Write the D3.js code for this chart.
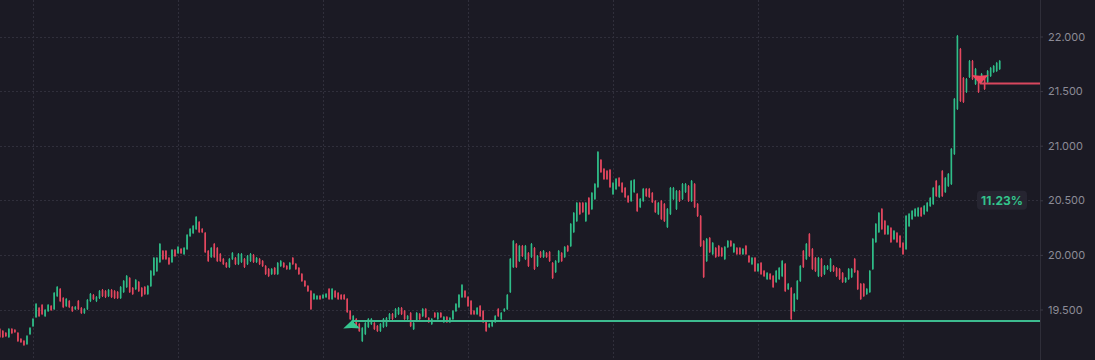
<!DOCTYPE html>
<html><head><meta charset="utf-8">
<script src="https://cdn.jsdelivr.net/npm/d3@7"></script>
<style>html,body{margin:0;padding:0;background:#1b1a24;overflow:hidden}svg{display:block}</style>
</head><body><svg id="c" width="1095" height="360"></svg>
<script>
const opens=[
19321,19303,19285,19248,19321,19312,19285,19230,19212,19184,
19275,19348,19431,19514,19541,19440,19486,19532,19504,19623,
19688,19605,19532,19578,19523,19504,19578,19514,19468,19504,
19577,19633,19577,19605,19679,19669,19623,19679,19669,19660,
19605,19660,19706,19788,19697,19687,19752,19697,19706,19642,
19715,19816,19852,19935,20036,20036,19972,19935,20045,20017,
20054,20008,20054,20173,20200,20237,20301,20237,20201,20036,
19981,20100,20063,20008,19963,19926,19889,19962,19972,19916,
19935,19963,19916,19944,19999,19935,19963,19944,19898,19871,
19825,19880,19825,19898,19926,19898,19871,19972,19917,19880,
19825,19761,19715,19669,19596,19596,19624,19605,19614,19688,
19596,19669,19651,19633,19633,19596,19486,19339,19413,19367,
19211,19275,19339,19367,19376,19349,19303,19339,19348,19413,
19459,19431,19458,19514,19486,19413,19468,19321,19394,19459,
19440,19504,19422,19367,19468,19413,19468,19385,19431,19385,
19413,19486,19522,19614,19669,19614,19578,19486,19458,19532,
19486,19395,19339,19348,19385,19504,19413,19486,19504,19660,
19889,20100,19944,20082,19962,20017,19981,20063,19898,20027,
19981,20017,20027,19926,19843,19935,20017,19981,20082,20081,
20209,20310,20476,20476,20310,20521,20420,20512,20622,20869,
20787,20768,20778,20557,20603,20704,20658,20613,20539,20494,
20576,20558,20438,20494,20604,20604,20567,20494,20374,20494,
20466,20255,20374,20512,20420,20585,20512,20576,20631,20494,
20649,20466,20356,20127,19944,20155,20008,20063,20082,20063,
19962,20072,20127,20026,20063,20063,20008,20082,19990,19916,
19972,19852,19926,19853,19779,19825,19807,19752,19779,19806,
19917,19687,19697,19486,19596,19761,20036,19962,20191,20054,
19972,19806,19963,19825,19871,19852,19898,19880,19871,19834,
19752,19779,19797,19963,19853,19734,19734,19642,19660,19871,
20118,20209,20420,20311,20191,20246,20145,20201,20173,20109,
20054,20264,20329,20356,20356,20430,20374,20402,20448,20466,
20677,20530,20768,20576,20631,20649,20924,21336,21886,21620,
21492,21629,21776,21565,21620,21583,21620,21583,21638,21675,
21684,21702];
const highs=[
19330,19312,19294,19330,19330,19321,19294,19239,19221,19266,
19339,19422,19559,19523,19550,19504,19550,19541,19660,19715,
19697,19614,19605,19587,19532,19532,19587,19523,19513,19596,
19651,19642,19623,19678,19688,19678,19688,19688,19678,19669,
19715,19770,19816,19797,19706,19779,19761,19706,19715,19724,
19862,19981,19981,20109,20045,20045,19981,20054,20054,20081,
20063,20072,20191,20246,20274,20356,20310,20246,20210,20045,
20072,20109,20072,20017,19972,19935,19972,20026,19981,20017,
20017,19972,19999,20017,20008,19981,19972,19953,19907,19880,
19880,19889,19935,19953,19935,19907,19935,19981,19926,19889,
19834,19770,19724,19678,19651,19633,19633,19642,19651,19697,
19697,19678,19660,19642,19642,19605,19495,19449,19422,19376,
19339,19385,19422,19422,19385,19358,19376,19422,19431,19468,
19468,19513,19523,19523,19495,19449,19477,19385,19477,19468,
19513,19513,19431,19422,19477,19477,19477,19440,19440,19431,
19495,19559,19642,19733,19678,19623,19587,19495,19523,19541,
19495,19404,19376,19404,19449,19513,19477,19513,19642,19972,
20136,20109,20091,20091,20091,20026,20109,20072,19999,20036,
20045,20026,20036,19935,19953,20045,20026,20081,20091,20292,
20393,20485,20485,20485,20485,20530,20576,20658,20951,20878,
20796,20777,20787,20667,20704,20713,20667,20622,20548,20686,
20695,20567,20521,20613,20613,20613,20576,20503,20485,20503,
20475,20429,20622,20622,20594,20594,20658,20658,20640,20686,
20658,20475,20365,20136,20155,20164,20118,20072,20091,20072,
20081,20136,20136,20109,20072,20072,20063,20091,19999,19981,
19981,19926,19935,19862,19843,19834,19816,19862,19889,19953,
19926,19743,19706,19651,19770,19907,20045,20109,20200,20063,
19981,19981,19972,19907,19907,19972,19907,19889,19880,19843,
19797,19880,19880,19972,19862,19743,19743,19697,19862,20155,
20292,20393,20429,20320,20274,20255,20228,20210,20182,20118,
20365,20384,20411,20429,20439,20439,20457,20485,20530,20622,
20686,20640,20777,20713,20750,20979,21437,22014,21895,21629,
21620,21785,21785,21712,21629,21666,21629,21693,21721,21739,
21767,21785];
const lows=[
19239,19239,19248,19239,19275,19285,19202,19193,19166,19175,
19266,19339,19422,19431,19449,19431,19477,19486,19495,19614,
19568,19513,19523,19513,19477,19495,19495,19459,19459,19495,
19568,19587,19568,19596,19614,19605,19614,19605,19596,19596,
19596,19651,19697,19651,19633,19678,19660,19614,19633,19633,
19706,19807,19843,19926,19953,19953,19907,19926,19981,20008,
20008,19999,20045,20164,20191,20228,20200,20200,20017,19935,
19972,19972,19935,19935,19907,19880,19880,19953,19907,19907,
19926,19880,19907,19935,19926,19926,19907,19889,19816,19797,
19816,19816,19816,19889,19880,19862,19862,19907,19862,19816,
19752,19706,19660,19495,19587,19587,19587,19596,19605,19587,
19587,19605,19587,19587,19587,19468,19404,19330,19330,19294,
19202,19266,19330,19358,19312,19294,19294,19330,19339,19404,
19404,19422,19449,19449,19404,19404,19339,19312,19385,19404,
19431,19422,19376,19358,19422,19404,19422,19376,19376,19376,
19404,19477,19513,19605,19605,19523,19449,19449,19449,19431,
19376,19294,19330,19339,19376,19431,19404,19477,19495,19651,
19880,19880,19935,19981,19953,19889,19972,19862,19889,19972,
19972,19972,19935,19779,19834,19926,19935,19972,20026,20072,
20200,20301,20365,20384,20301,20365,20411,20503,20613,20750,
20686,20686,20613,20548,20594,20622,20567,20521,20475,20485,
20567,20393,20429,20485,20530,20521,20475,20384,20365,20320,
20301,20246,20365,20503,20411,20485,20503,20567,20485,20485,
20429,20347,20072,19788,19935,20017,19999,19972,19981,19981,
19953,20063,20072,20017,19999,19999,19999,19999,19926,19907,
19843,19843,19816,19797,19770,19770,19697,19743,19770,19797,
19660,19678,19404,19477,19587,19752,19880,19953,19981,19862,
19843,19797,19797,19816,19862,19843,19843,19797,19770,19743,
19743,19770,19788,19834,19678,19587,19614,19633,19651,19862,
20109,20200,20228,20182,20182,20109,20136,20109,20063,19999,
20045,20255,20320,20347,20347,20347,20365,20393,20439,20457,
20530,20521,20530,20567,20622,20640,20915,21327,21400,21391,
21483,21620,21602,21556,21483,21574,21510,21574,21629,21666,
21675,21693];
const closes=[
19248,19248,19257,19321,19284,19294,19211,19202,19175,19257,
19330,19413,19550,19440,19458,19495,19541,19495,19651,19706,
19577,19522,19596,19522,19486,19523,19504,19468,19504,19587,
19642,19596,19614,19669,19623,19614,19679,19614,19605,19605,
19706,19761,19807,19660,19642,19770,19669,19623,19642,19715,
19853,19972,19972,20100,19962,19962,19916,20045,19990,20072,
20017,20063,20182,20237,20265,20347,20209,20209,20026,19944,
20063,19981,19944,19944,19916,19889,19963,20017,19916,20008,
20008,19889,19990,20008,19935,19972,19916,19898,19825,19806,
19871,19825,19926,19944,19889,19871,19926,19916,19871,19825,
19761,19715,19669,19504,19642,19624,19596,19633,19642,19596,
19688,19614,19596,19596,19596,19477,19413,19440,19339,19303,
19330,19376,19413,19413,19321,19303,19367,19413,19422,19459,
19413,19504,19514,19458,19413,19440,19348,19376,19468,19413,
19504,19431,19385,19413,19431,19468,19431,19431,19385,19422,
19486,19550,19633,19724,19614,19532,19458,19458,19514,19440,
19385,19303,19367,19395,19440,19440,19468,19504,19633,19963,
20127,19889,20082,19990,20082,19898,20100,19871,19990,19981,
20036,19981,19944,19788,19944,20036,19944,20072,20035,20283,
20384,20476,20374,20393,20476,20374,20567,20649,20942,20759,
20695,20695,20622,20658,20695,20631,20576,20530,20484,20677,
20686,20402,20512,20604,20539,20530,20484,20393,20476,20329,
20310,20420,20613,20613,20585,20494,20649,20649,20494,20677,
20438,20356,20081,19797,20146,20026,20109,19981,19990,19990,
20072,20127,20081,20100,20008,20008,20054,20008,19935,19972,
19852,19917,19825,19806,19834,19779,19706,19853,19880,19944,
19669,19734,19413,19642,19761,19898,19889,20100,19990,19871,
19852,19972,19806,19898,19898,19963,19852,19806,19779,19752,
19788,19871,19871,19843,19687,19596,19623,19688,19853,20146,
20283,20384,20237,20191,20265,20118,20219,20118,20072,20008,
20356,20375,20402,20420,20430,20356,20448,20476,20521,20613,
20539,20631,20539,20704,20741,20970,21428,22005,21409,21400,
21611,21776,21611,21703,21492,21657,21519,21684,21712,21730,
21758,21776];
const priceTicks=[19500,20000,20500,21000,21500,22000];
const timeGridIdx=[11,59,107,155,203,251,299];
const buySignal={index:116.5, price:19394};
const sellSignal={index:324.5, price:21570};
const changeText="11.23%";
const changePrice=20500;

const W=1095,H=360,plotRight=1040;
const BG="#1b1a24",UP="#2fbd88",DN="#e5475f",GRID="#302f3b",TXT="#8c8b96";
const svg=d3.select("#c");
svg.append("rect").attr("width",W).attr("height",H).attr("fill",BG);
const n=closes.length;
const x=d3.scaleLinear().domain([0,331]).range([-0.2,999.7]);
const y=d3.scaleLinear().domain([19500,22000]).range([309.5,36.5]);
const loc=d3.formatLocale({decimal:",",thousands:".",grouping:[3],currency:["","€"]});
const fmt=loc.format(",");

// grid
const g=svg.append("g");
g.selectAll("line.h").data(priceTicks).join("line")
 .attr("x1",0).attr("x2",plotRight).attr("y1",d=>Math.round(y(d))+0.5).attr("y2",d=>Math.round(y(d))+0.5)
 .attr("stroke",GRID).attr("stroke-width",1).attr("stroke-dasharray","2,2");
g.selectAll("line.v").data(timeGridIdx).join("line")
 .attr("y1",0).attr("y2",H).attr("x1",d=>Math.round(x(d))+0.5).attr("x2",d=>Math.round(x(d))+0.5)
 .attr("stroke",GRID).attr("stroke-width",1).attr("stroke-dasharray","2,2");

// candles
const idx=d3.range(n);
const cg=svg.append("g");
cg.selectAll("line").data(idx).join("line")
 .attr("x1",i=>x(i)).attr("x2",i=>x(i)).attr("y1",i=>y(highs[i])).attr("y2",i=>y(lows[i]))
 .attr("stroke",i=>closes[i]>=opens[i]?UP:DN).attr("stroke-width",1);
cg.selectAll("rect").data(idx).join("rect")
 .attr("x",i=>x(i)-0.8).attr("width",1.6)
 .attr("y",i=>y(Math.max(opens[i],closes[i])))
 .attr("height",i=>Math.max(1,Math.abs(y(opens[i])-y(closes[i]))))
 .attr("fill",i=>closes[i]>=opens[i]?UP:DN);

// signal lines
svg.append("line").attr("x1",x(buySignal.index)).attr("x2",plotRight)
 .attr("y1",y(buySignal.price)).attr("y2",y(buySignal.price))
 .attr("stroke","#3dbb8f").attr("stroke-width",2);
svg.append("line").attr("x1",x(sellSignal.index)).attr("x2",plotRight)
 .attr("y1",y(sellSignal.price)).attr("y2",y(sellSignal.price))
 .attr("stroke","#d9475e").attr("stroke-width",2);
svg.append("path").attr("transform",`translate(${x(buySignal.index)},${y(buySignal.price)})`)
 .attr("d","M0,-0.5L8.5,7.5L0,6.8L-8.5,7.5Z").attr("fill","#35c690");
svg.append("path").attr("transform",`translate(${x(sellSignal.index)},${y(sellSignal.price)})`)
 .attr("d","M0,0.5L8.5,-8.5L0,-7.8L-8.5,-8.5Z").attr("fill","#f0475f");

// change label
const cy=y(changePrice);
svg.append("rect").attr("x",977).attr("y",cy-9.5).attr("width",50).attr("height",19).attr("rx",4)
 .attr("fill","#262531");
svg.append("text").attr("x",1002).attr("y",cy).attr("dy","0.36em").attr("text-anchor","middle")
 .attr("font-family","Inter, 'Open Sans', sans-serif").attr("font-weight",700).attr("font-size",12)
 .attr("fill","#33c48c").text(changeText);

// right axis
svg.append("line").attr("x1",plotRight+0.5).attr("x2",plotRight+0.5).attr("y1",0).attr("y2",H)
 .attr("stroke","#2f2e39").attr("stroke-width",1);
const ax=svg.append("g").attr("transform",`translate(${plotRight},0)`)
 .call(d3.axisRight(y).tickValues(priceTicks).tickFormat(fmt).tickSize(3).tickPadding(5));
ax.select(".domain").remove();
ax.selectAll(".tick line").attr("stroke","#3a3945");
ax.selectAll(".tick text").attr("fill",TXT).attr("font-family","Inter, 'Open Sans', sans-serif").attr("font-size",11);
</script></body></html>
